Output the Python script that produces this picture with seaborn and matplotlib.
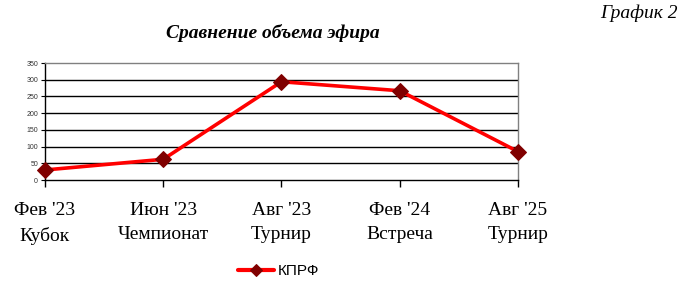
import matplotlib
matplotlib.use("Agg")
import matplotlib.pyplot as plt
import seaborn as sns
import pandas as pd

categories = ["Фев '23\nКубок", "Июн '23\nЧемпионат", "Авг '23\nТурнир", "Фев '24\nВстреча", "Авг '25\nТурнир"]
values = [30, 62, 294, 267, 85]
series_name = "КПРФ"
yticks = [0, 50, 100, 150, 200, 250, 300, 350]

sns.set_style("white")
plt.rcParams['font.family'] = ['Liberation Sans', 'DejaVu Sans']

df = pd.DataFrame({"cat": categories, "val": values, "series": series_name})

fig = plt.figure(figsize=(6.83, 2.85), dpi=100)
ax = fig.add_axes([0.0659, 0.3684, 0.6925, 0.4105])

sns.lineplot(data=df, x="cat", y="val", sort=False, ax=ax, color="#ff0000",
             linewidth=2.6, marker="D", markersize=8.5, markerfacecolor="#800000",
             markeredgecolor="#800000", label=series_name, legend=False)
for ln in ax.lines:
    ln.set_clip_on(False)
    ln.set_zorder(5)

ax.set_xlim(0, len(categories) - 1)
ax.set_ylim(0, 350)
ax.set_yticks(yticks)
ax.set_yticklabels([str(v) for v in yticks], fontsize=5, color="#333333")
for v in yticks[1:-1]:
    ax.axhline(v, color="black", linewidth=1.0, zorder=0)
ax.set_xlabel("")
ax.set_ylabel("")
ax.set_xticks(range(len(categories)))
ax.set_xticklabels(categories, fontsize=14, family=['Liberation Serif'], linespacing=1.55,
                   color="black")
ax.tick_params(axis='x', length=5, width=1, color="black", direction='out', pad=11)
ax.tick_params(axis='y', length=3, width=0.8, color="black", direction='out', pad=2)
ax.xaxis.set_ticks_position('bottom')
ax.yaxis.set_ticks_position('left')

for side in ['top', 'right']:
    ax.spines[side].set_color("#808080")
    ax.spines[side].set_linewidth(1.0)
for side in ['left', 'bottom']:
    ax.spines[side].set_color("black")
    ax.spines[side].set_linewidth(1.0)
for s in ax.spines.values():
    s.set_visible(True)

fig.text(0.4, 0.885, "Сравнение объема эфира", fontsize=14, fontweight='bold',
         fontstyle='italic', family=['Liberation Serif'], ha='center', va='center',
         color="black")
fig.text(0.992, 0.955, "График 2", fontsize=14, fontstyle='italic',
         family=['Liberation Serif'], ha='right', va='center', color="black")

handles, labels = ax.get_legend_handles_labels()
leg = fig.legend(handles, labels, loc='center', bbox_to_anchor=(0.408, 0.049), frameon=False,
                 fontsize=11, handlelength=2.35, handletextpad=0.3, borderaxespad=0)
for h in leg.legend_handles:
    h.set_markersize(6)
    h.set_linewidth(3)
for t in leg.get_texts():
    t.set_color("black")

fig.savefig("out.png", dpi=100)
